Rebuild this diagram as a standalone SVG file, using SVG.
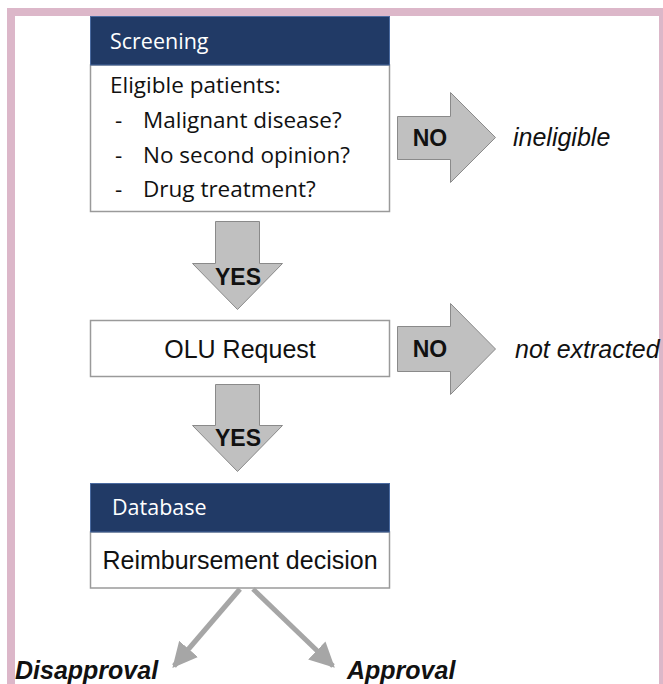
<svg xmlns="http://www.w3.org/2000/svg" width="663" height="684" viewBox="0 0 663 684">
<defs>
<style>
.frame{fill:#dcb7c9}
.hdr{fill:#213a66;stroke:#4a6aa0;stroke-width:1}
.box{fill:#fff;stroke:#9a9a9a;stroke-width:1.5}
.blk{fill:#c0c0c0;stroke:#8a8a8a;stroke-width:1}
.cal{font-family:"Open Sans","Noto Sans",sans-serif;font-size:22.5px;fill:#111}
.htxt{font-family:"Open Sans","Noto Sans",sans-serif;font-size:21.5px;fill:#fff}
.ar{font-family:"Liberation Sans",Arial,sans-serif;fill:#111}
.b{font-weight:bold}
.i{font-style:italic}
.conn{stroke:#a6a6a6;stroke-width:5;fill:none}
</style>
<marker id="ah" viewBox="0 0 10 10" refX="9" refY="5" markerWidth="5" markerHeight="5" orient="auto" markerUnits="strokeWidth">
<path d="M0,0 L10,5 L0,10 z" fill="#a6a6a6"/>
</marker>
</defs>
<rect width="663" height="684" fill="#fff"/>
<rect class="frame" x="7" y="8" width="656" height="8"/>
<rect class="frame" x="7" y="8" width="8" height="676"/>
<rect class="frame" x="659" y="8" width="4" height="676"/>

<g id="screening">
<rect class="box" x="90.5" y="65" width="299" height="146.5"/>
<rect class="hdr" x="90.5" y="16.5" width="299" height="48.5"/>
<text class="htxt" x="110" y="49">Screening</text>
<text class="cal" x="110" y="93">Eligible patients:</text>
<text class="cal" x="115" y="128">-</text>
<text class="cal" x="143" y="128">Malignant disease?</text>
<text class="cal" x="115" y="163">-</text>
<text class="cal" x="143" y="163">No second opinion?</text>
<text class="cal" x="115" y="197">-</text>
<text class="cal" x="143" y="197">Drug treatment?</text>
</g>

<g id="olu-request">
<rect class="box" x="90.5" y="320.5" width="299" height="56"/>
<text class="ar" x="240" y="358" font-size="25" text-anchor="middle">OLU Request</text>
</g>

<g id="database">
<rect class="box" x="90.5" y="532" width="299" height="56"/>
<rect class="hdr" x="90.5" y="483.5" width="299" height="48.5"/>
<text class="htxt" x="112" y="515">Database</text>
<text class="ar" x="240" y="569" font-size="25" text-anchor="middle">Reimbursement decision</text>
</g>

<g id="ineligible">
<text class="ar i" x="513" y="146" font-size="25">ineligible</text>
</g>
<g id="not-extracted">
<text class="ar i" x="515" y="358" font-size="25">not extracted</text>
</g>
<g id="disapproval">
<text class="ar b i" x="15" y="679" font-size="25">Disapproval</text>
</g>
<g id="approval">
<text class="ar b i" x="347" y="679" font-size="25">Approval</text>
</g>

<g id="connectors">
<g id="no1">
<path class="blk" d="M397.5,116.5 H450.5 V92.5 L495.5,137.5 L450.5,182.5 V159.5 H397.5 Z"/>
<text class="ar b" x="430" y="146" font-size="23" text-anchor="middle">NO</text>
</g>
<g id="no2">
<path class="blk" d="M397.5,326.5 H450.5 V303.5 L495.5,349 L450.5,394.5 V371.5 H397.5 Z"/>
<text class="ar b" x="430" y="357" font-size="23" text-anchor="middle">NO</text>
</g>
<g id="yes1">
<path class="blk" d="M215.5,221.5 H259.5 V263.5 H282.5 L237.5,309.5 L192.5,263.5 H215.5 Z"/>
<text class="ar b" x="238" y="285" font-size="23" text-anchor="middle">YES</text>
</g>
<g id="yes2">
<path class="blk" d="M215.5,384.5 H259.5 V425.5 H282.5 L237.5,471.5 L192.5,425.5 H215.5 Z"/>
<text class="ar b" x="238" y="446" font-size="23" text-anchor="middle">YES</text>
</g>
<path class="conn" d="M240,589 L174,666" marker-end="url(#ah)"/>
<path class="conn" d="M253,589 L333,666" marker-end="url(#ah)"/>
</g>
</svg>
